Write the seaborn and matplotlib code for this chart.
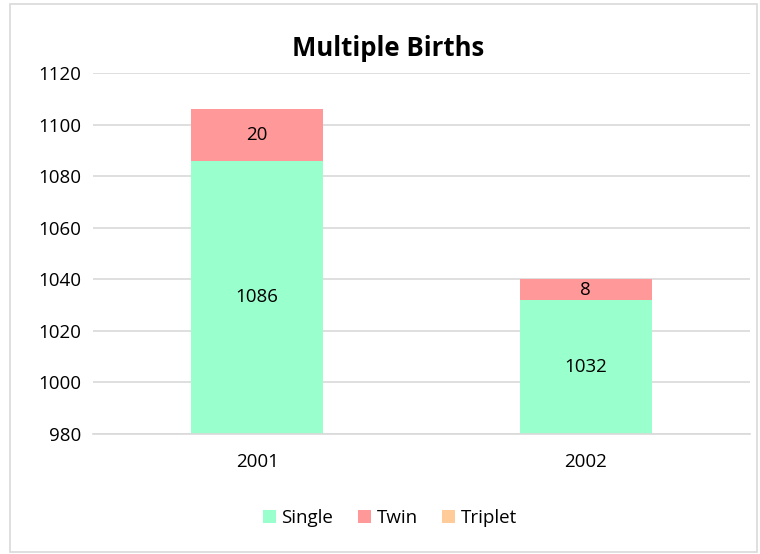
import matplotlib
matplotlib.use("Agg")
import matplotlib.pyplot as plt
from matplotlib.patches import Rectangle, Patch
import seaborn as sns
import pandas as pd
import numpy as np

years = ["2001", "2002"]
single = [1086, 1032]
twin = [20, 8]
triplet = [0, 0]

series = ["Single", "Twin", "Triplet"]
colors = {"Single": "#99FFCC", "Twin": "#FF9999", "Triplet": "#FFCC99"}

sns.set_style("white")
plt.rcParams["font.family"] = ["Open Sans", "DejaVu Sans"]
plt.rcParams["text.color"] = "black"

YMIN, YMAX = 980, 1120

fig = plt.figure(figsize=(7.6, 5.54), dpi=100)
ax = fig.add_axes([0.122, 0.2166, 0.865, 0.6514])

df = pd.DataFrame({"year": years, "Single": single, "Twin": twin, "Triplet": triplet})
bottom = np.zeros(len(years))
for name in series:
    vals = df[name].values
    sns.barplot(x=df["year"], y=vals, bottom=bottom, color=colors[name],
                width=0.4, ax=ax, saturation=1, label=name,
                edgecolor="none", linewidth=0)
    bar_patches = ax.patches[-len(years):]
    for p, v, b in zip(bar_patches, vals, bottom):
        if v > 0:
            lo = max(b, YMIN)
            ax.text(p.get_x() + p.get_width() / 2, (lo + b + v) / 2, str(v),
                    ha="center", va="center", fontsize=13.5, color="black")
    bottom = bottom + vals

ax.set_ylim(YMIN, YMAX)
ax.set_yticks(range(YMIN, YMAX + 1, 20))
ax.set_xlim(-0.5, 1.5)
ax.set_xlabel("")
ax.set_ylabel("")
ax.yaxis.grid(True, color="#D9D9D9", linewidth=1.2)
ax.set_axisbelow(True)
for s in ["top", "right", "left"]:
    ax.spines[s].set_visible(False)
ax.spines["bottom"].set_color("#D9D9D9")
ax.spines["bottom"].set_linewidth(1.2)
ax.tick_params(axis="both", length=0, labelsize=13.5, colors="black", pad=8)
ax.tick_params(axis="x", pad=14)

fig.text(0.511, 0.912, "Multiple Births", fontsize=18.5, fontweight="bold",
         ha="center", va="center", color="black")

handles = [Patch(facecolor=colors[n], edgecolor="none") for n in series]
ax.legend(handles, series, loc="center", bbox_to_anchor=(0.513, 0.065),
          bbox_transform=fig.transFigure, ncol=3, frameon=False,
          fontsize=13.5, handlelength=0.7, handleheight=0.7,
          handletextpad=0.3, columnspacing=1.3)

fig.patches.append(Rectangle((0.013, 0.004), 0.983, 0.988, transform=fig.transFigure,
                             fill=False, edgecolor="#D9D9D9", linewidth=1.2))

fig.savefig("out.png", dpi=100)
